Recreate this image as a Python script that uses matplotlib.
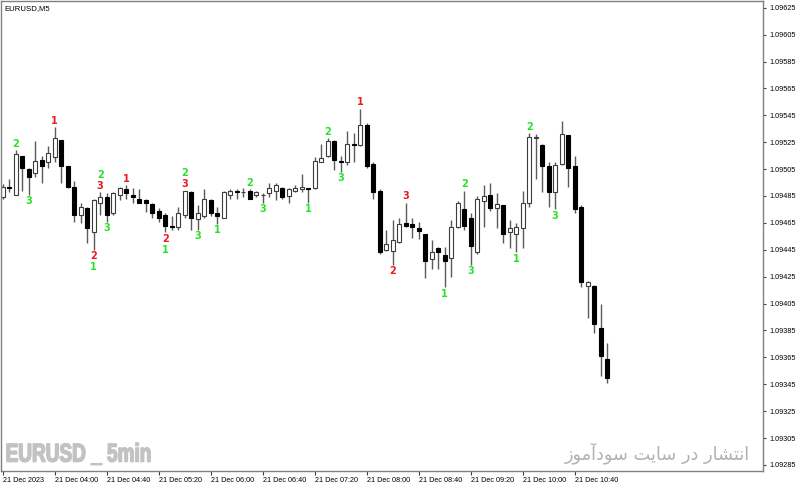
import numpy as np
import matplotlib
matplotlib.use("Agg")
import matplotlib.pyplot as plt
from matplotlib.patheffects import AbstractPathEffect
from matplotlib.transforms import Affine2D

plt.rcParams['font.family'] = ['Liberation Sans', 'DejaVu Sans']

# EURUSD M5 candles, 21 Dec 2023 from 03:20
opens = [1.09484, 1.09492, 1.09486, 1.09515, 1.09505, 1.09502, 1.09512, 1.09510, 1.09514, 1.09527,
         1.09507, 1.09492, 1.09471, 1.09476, 1.09458, 1.09480, 1.09484, 1.09472, 1.09486, 1.09490,
         1.09486, 1.09483, 1.09482, 1.09479, 1.09474, 1.09471, 1.09463, 1.09462, 1.09471, 1.09488,
         1.09468, 1.09470, 1.09482, 1.09472, 1.09469, 1.09486, 1.09489, 1.09488, 1.09489, 1.09486,
         1.09486, 1.09487, 1.09489, 1.09491, 1.09485, 1.09489, 1.09490, 1.09491, 1.09491, 1.09510,
         1.09515, 1.09526, 1.09511, 1.09510, 1.09524, 1.09523, 1.09538, 1.09509, 1.09489, 1.09445,
         1.09444, 1.09451, 1.09465, 1.09464, 1.09461, 1.09457, 1.09438, 1.09446, 1.09441, 1.09439,
         1.09462, 1.09475, 1.09469, 1.09443, 1.09481, 1.09486, 1.09476, 1.09478, 1.09458, 1.09457,
         1.09461, 1.09480, 1.09528, 1.09523, 1.09507, 1.09488, 1.09509, 1.09530, 1.09507, 1.09477,
         1.09418, 1.09418, 1.09387, 1.09364]
highs = [1.09494, 1.09498, 1.09519, 1.09515, 1.09506, 1.09526, 1.09515, 1.09522, 1.09536, 1.09527,
         1.09507, 1.09496, 1.09480, 1.09477, 1.09483, 1.09488, 1.09487, 1.09488, 1.09492, 1.09493,
         1.09491, 1.09490, 1.09483, 1.09480, 1.09476, 1.09472, 1.09470, 1.09477, 1.09489, 1.09489,
         1.09478, 1.09490, 1.09483, 1.09477, 1.09489, 1.09490, 1.09490, 1.09491, 1.09490, 1.09489,
         1.09487, 1.09495, 1.09495, 1.09492, 1.09491, 1.09493, 1.09501, 1.09491, 1.09514, 1.09524,
         1.09528, 1.09527, 1.09515, 1.09533, 1.09532, 1.09550, 1.09539, 1.09510, 1.09490, 1.09460,
         1.09467, 1.09469, 1.09480, 1.09469, 1.09466, 1.09457, 1.09452, 1.09447, 1.09447, 1.09467,
         1.09481, 1.09489, 1.09472, 1.09485, 1.09493, 1.09495, 1.09487, 1.09478, 1.09467, 1.09465,
         1.09489, 1.09532, 1.09531, 1.09524, 1.09510, 1.09510, 1.09541, 1.09530, 1.09515, 1.09478,
         1.09422, 1.09419, 1.09405, 1.09376]
lows = [1.09483, 1.09488, 1.09486, 1.09489, 1.09486, 1.09499, 1.09495, 1.09506, 1.09510, 1.09495,
        1.09491, 1.09466, 1.09465, 1.09450, 1.09445, 1.09471, 1.09466, 1.09471, 1.09482, 1.09483,
        1.09480, 1.09480, 1.09473, 1.09469, 1.09466, 1.09458, 1.09460, 1.09460, 1.09469, 1.09460,
        1.09460, 1.09469, 1.09470, 1.09464, 1.09469, 1.09483, 1.09483, 1.09484, 1.09483, 1.09484,
        1.09480, 1.09484, 1.09482, 1.09483, 1.09480, 1.09488, 1.09488, 1.09480, 1.09490, 1.09510,
        1.09514, 1.09504, 1.09503, 1.09508, 1.09510, 1.09522, 1.09506, 1.09483, 1.09442, 1.09444,
        1.09434, 1.09450, 1.09462, 1.09454, 1.09453, 1.09424, 1.09431, 1.09431, 1.09417, 1.09425,
        1.09461, 1.09460, 1.09434, 1.09442, 1.09462, 1.09474, 1.09461, 1.09450, 1.09446, 1.09443,
        1.09446, 1.09477, 1.09498, 1.09488, 1.09477, 1.09475, 1.09508, 1.09492, 1.09472, 1.09417,
        1.09394, 1.09383, 1.09351, 1.09346]
closes = [1.09492, 1.09491, 1.09516, 1.09506, 1.09499, 1.09511, 1.09507, 1.09517, 1.09528, 1.09507,
          1.09492, 1.09471, 1.09477, 1.09461, 1.09482, 1.09484, 1.09471, 1.09487, 1.09491, 1.09487,
          1.09484, 1.09480, 1.09480, 1.09472, 1.09469, 1.09463, 1.09462, 1.09472, 1.09489, 1.09469,
          1.09472, 1.09483, 1.09472, 1.09470, 1.09488, 1.09489, 1.09488, 1.09488, 1.09483, 1.09488,
          1.09486, 1.09491, 1.09493, 1.09484, 1.09490, 1.09491, 1.09492, 1.09490, 1.09511, 1.09513,
          1.09526, 1.09512, 1.09510, 1.09524, 1.09523, 1.09538, 1.09507, 1.09488, 1.09443, 1.09449,
          1.09452, 1.09464, 1.09463, 1.09462, 1.09459, 1.09437, 1.09443, 1.09443, 1.09437, 1.09462,
          1.09480, 1.09463, 1.09448, 1.09483, 1.09485, 1.09476, 1.09479, 1.09457, 1.09461, 1.09462,
          1.09480, 1.09529, 1.09529, 1.09507, 1.09488, 1.09508, 1.09531, 1.09506, 1.09475, 1.09421,
          1.09421, 1.09390, 1.09366, 1.09350]

# indicator counts: bar, digit, colour, side (1 above high, -1 below low), row in the stack
sig_bar = [2, 4, 8, 14, 14, 15, 15, 16, 19, 25, 25, 28, 28, 30, 33, 38, 40, 47, 50, 52,
           55, 60, 62, 68, 71, 72, 79, 81, 85]
sig_text = ['2', '3', '1', '2', '1', '3', '2', '3', '1', '2', '1', '3', '2', '3', '1', '2', '3', '1', '2', '3',
            '1', '2', '3', '1', '2', '3', '1', '2', '3']
sig_col = ['g', 'g', 'r', 'r', 'g', 'r', 'g', 'g', 'r', 'r', 'g', 'r', 'g', 'g', 'g', 'g', 'g', 'g', 'g', 'g',
           'r', 'r', 'r', 'g', 'g', 'g', 'g', 'g', 'g']
sig_side = [1, -1, 1, -1, -1, 1, 1, -1, 1, -1, -1, 1, 1, -1, -1, 1, -1, -1, 1, -1,
            1, -1, 1, -1, 1, -1, -1, 1, -1]
sig_row = [0, 0, 0, 0, 1, 0, 1, 0, 0, 0, 1, 0, 1, 0, 0, 0, 0, 0, 0, 0,
           0, 0, 0, 0, 0, 0, 0, 0, 0]

time_labels = ["21 Dec 2023", "21 Dec 04:00", "21 Dec 04:40", "21 Dec 05:20", "21 Dec 06:00",
               "21 Dec 06:40", "21 Dec 07:20", "21 Dec 08:00", "21 Dec 08:40", "21 Dec 09:20",
               "21 Dec 10:00", "21 Dec 10:40"]
price_ticks = np.round(np.arange(1.09285, 1.09626, 0.0002), 5)

site_text = "انتشار در سایت سودآموز"

# minimal arabic shaping (matplotlib has no text layout for it)
forms = {
    'ا': ('\uFE8D', '\uFE8E', None, None),
    'آ': ('\uFE81', '\uFE82', None, None),
    'ن': ('\uFEE5', '\uFEE6', '\uFEE7', '\uFEE8'),
    'ت': ('\uFE95', '\uFE96', '\uFE97', '\uFE98'),
    'ش': ('\uFEB5', '\uFEB6', '\uFEB7', '\uFEB8'),
    'ر': ('\uFEAD', '\uFEAE', None, None),
    'د': ('\uFEA9', '\uFEAA', None, None),
    'س': ('\uFEB1', '\uFEB2', '\uFEB3', '\uFEB4'),
    'ی': ('\uFBFC', '\uFBFD', '\uFBFE', '\uFBFF'),
    'و': ('\uFEED', '\uFEEE', None, None),
    'م': ('\uFEE1', '\uFEE2', '\uFEE3', '\uFEE4'),
    'ز': ('\uFEAF', '\uFEB0', None, None),
}


def shape(s):
    out = []
    for i, ch in enumerate(s):
        if ch not in forms:
            out.append(ch)
            continue
        f = forms[ch]
        prev = s[i - 1] if i > 0 else ' '
        nxt = s[i + 1] if i + 1 < len(s) else ' '
        jp = prev in forms and forms[prev][2] is not None
        jn = nxt in forms and f[2] is not None
        if jp and jn:
            out.append(f[3])
        elif jp:
            out.append(f[1])
        elif jn:
            out.append(f[2])
        else:
            out.append(f[0])
    return ''.join(reversed(out))


class Squash(AbstractPathEffect):
    # narrow + heavy glyphs, no condensed bold font is installed
    def __init__(self, sx, stroke):
        super().__init__()
        self.sx = sx
        self.stroke = stroke

    def draw_path(self, renderer, gc, tpath, affine, rgbFace=None):
        gc0 = renderer.new_gc()
        gc0.copy_properties(gc)
        gc0.set_linewidth(self.stroke)
        gc0.set_foreground(rgbFace)
        renderer.draw_path(gc0, tpath, Affine2D().scale(self.sx, 1) + affine, rgbFace)
        gc0.restore()


o = np.array(opens)
h = np.array(highs)
l = np.array(lows)
c = np.array(closes)
x = np.arange(len(o))
up = c >= o

fig = plt.figure(figsize=(8, 4.9), dpi=100)
ax = fig.add_axes([1 / 800, 19 / 490, 762 / 800, 470 / 490])

ax.vlines(x, l, h, colors='#5a5a5a', lw=1, zorder=1)
ax.bar(x[up], (c - o)[up], bottom=o[up], width=0.6, color='white', edgecolor='#3c3c3c', lw=0.8, zorder=2)
ax.bar(x[~up], (o - c)[~up], bottom=c[~up], width=0.6, color='black', edgecolor='black', lw=0.8, zorder=2)

for b, t, col, side, row in zip(sig_bar, sig_text, sig_col, sig_side, sig_row):
    yv = h[b] if side > 0 else l[b]
    off = side * (4.5 + 8.0 * row)
    ax.annotate(t, (b, yv), xytext=(0, off), textcoords='offset points',
                ha='center', va='center', fontsize=7, fontweight='bold',
                color='#27e327' if col == 'g' else '#ea1c1c', family='DejaVu Sans')

ax.set_xlim(-0.26, 116.97)
ax.set_ylim(1.092805, 1.096300)

ax.set_xticks(np.arange(len(time_labels)) * 8)
ax.set_xticklabels(time_labels, ha='left')
ax.set_yticks(price_ticks)
ax.set_yticklabels([f"{v:.5f}" for v in price_ticks])
ax.yaxis.tick_right()
ax.tick_params(axis='x', length=3, width=0.8, pad=1.5, labelsize=5.2, color='#404040')
ax.tick_params(axis='y', length=2.5, width=0.8, pad=2, labelsize=5.2, color='#404040')
for s in ax.spines.values():
    s.set_color('#808080')
    s.set_linewidth(1)

ax.text(0.004, 0.985, "EURUSD,M5", transform=ax.transAxes, fontsize=5.6, va='center', ha='left')
ax.text(0.006, 0.035, "EURUSD _ 5min", transform=ax.transAxes, fontsize=18.5, fontweight='bold',
        color='#c2c2c2', va='center', ha='left', path_effects=[Squash(0.74, 1.1)])
ax.text(0.983, 0.037, shape(site_text), transform=ax.transAxes, fontsize=12.8,
        color='#b2b2b2', va='center', ha='right', family='DejaVu Sans')

fig.savefig('out.png', dpi=100)
